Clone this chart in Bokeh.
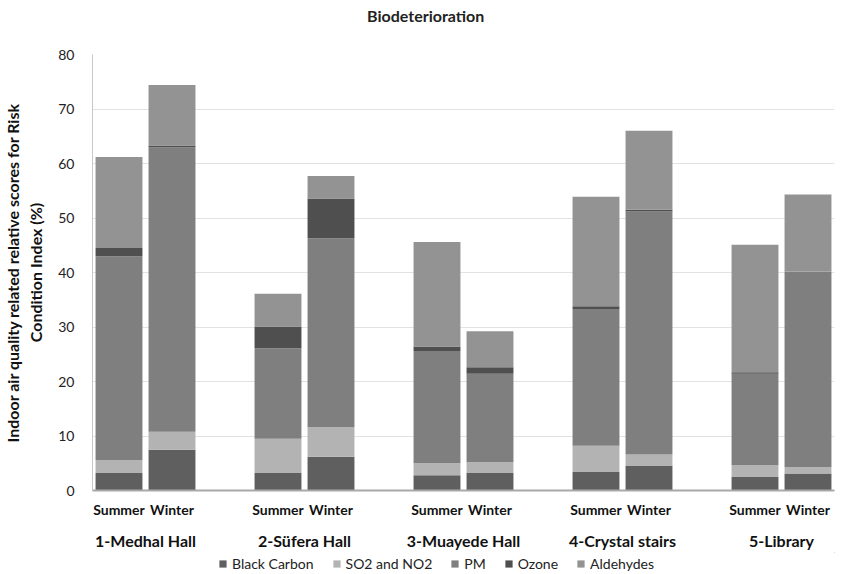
from bokeh.plotting import figure
from bokeh.models import ColumnDataSource, FactorRange, Range1d, Legend, LegendItem
from bokeh.layouts import column
from bokeh.core.properties import value
from bokeh.embed import file_html
from bokeh.resources import INLINE

title_text = "Biodeterioration"
halls = ["1-Medhal Hall", "2-Süfera Hall", "3-Muayede Hall", "4-Crystal stairs", "5-Library"]
seasons = ["Summer", "Winter"]
series = ["Black Carbon", "SO2 and NO2", "PM", "Ozone", "Aldehydes"]

# order: S1, W1, S2, W2, S3, W3, S4, W4, S5, W5
black_carbon = [3.2, 7.5, 3.2, 6.2, 2.8, 3.2, 3.4, 4.5, 2.5, 3.1]
so2_no2 = [2.4, 3.3, 6.3, 5.4, 2.2, 2.0, 4.8, 2.1, 2.2, 1.2]
pm = [37.4, 52.2, 16.6, 34.7, 20.6, 16.2, 25.1, 44.6, 16.7, 35.9]
ozone = [1.5, 0.3, 4.0, 7.3, 0.8, 1.2, 0.5, 0.3, 0.3, 0.0]
aldehydes = [16.7, 11.1, 6.0, 4.1, 19.2, 6.6, 20.1, 14.5, 23.4, 14.1]
y_ticks = [0, 10, 20, 30, 40, 50, 60, 70, 80]

colors = ["#5f5f5f", "#b3b3b3", "#7f7f7f", "#4f4f4f", "#939393"]
FONT = "Lato"
W = 846
LEFT, RIGHT = 88, 12   # frame borders shared by the stacked figures

# ---------- header (title) ----------
head = figure(width=W, height=30, output_backend="svg", toolbar_location=None,
              x_range=Range1d(LEFT, W - RIGHT), y_range=Range1d(0, 30),
              x_axis_location=None, y_axis_location=None,
              min_border_left=LEFT, min_border_right=RIGHT, min_border_top=0, min_border_bottom=0)
head.grid.visible = False
head.outline_line_color = None
head.text(x=[423], y=[15], text=[title_text], text_font=value(FONT), text_font_size="16px",
          text_font_style="bold", text_color="#222222", text_align="center",
          text_baseline="middle")

# ---------- main chart ----------
factors = [(h, s) for h in halls for s in seasons]
src = ColumnDataSource(dict(x=factors, bc=black_carbon, so2=so2_no2, pm=pm,
                            oz=ozone, ald=aldehydes))

p = figure(width=W, height=522, output_backend="svg", toolbar_location=None,
           x_range=FactorRange(*factors, range_padding=0, group_padding=1.0, factor_padding=0),
           y_range=Range1d(0, 80),
           min_border_left=LEFT, min_border_right=RIGHT, min_border_top=24, min_border_bottom=62)

renderers = p.vbar_stack(["bc", "so2", "pm", "oz", "ald"], x="x", width=0.885, source=src,
                         color=colors, line_color=None)

p.yaxis.axis_label = "Indoor air quality related relative scores for Risk\nCondition Index (%)"
p.yaxis.axis_label_text_font = FONT
p.yaxis.axis_label_text_font_size = "16px"
p.yaxis.axis_label_text_font_style = "bold"
p.yaxis.axis_label_text_color = "#111111"
p.yaxis.axis_label_standoff = 10
p.yaxis.ticker = y_ticks
p.yaxis.major_label_text_font = FONT
p.yaxis.major_label_text_font_size = "14px"
p.yaxis.major_label_text_color = "#222222"
p.yaxis.major_tick_line_color = None
p.yaxis.minor_tick_line_color = None
p.yaxis.axis_line_color = "#c8c8c8"
p.yaxis.major_label_standoff = 12

p.xaxis.major_label_text_font = FONT
p.xaxis.major_label_text_font_size = "14px"
p.xaxis.major_label_text_font_style = "bold"
p.xaxis.major_label_text_color = "#111111"
p.xaxis.group_text_font = FONT
p.xaxis.group_text_font_size = "16px"
p.xaxis.group_text_font_style = "bold"
p.xaxis.group_text_color = "#111111"
p.xaxis.separator_line_alpha = 0
p.xaxis.major_tick_line_color = None
p.xaxis.major_tick_out = 0
p.xaxis.major_tick_in = 0
p.xaxis.axis_line_color = "#a8a8a8"
p.xaxis.axis_line_width = 2
p.xaxis.major_label_standoff = 10

p.xgrid.grid_line_color = None
p.ygrid.grid_line_color = "#e2e2e2"
p.outline_line_color = None

# ---------- legend strip ----------
leg = figure(width=W, height=22, output_backend="svg", toolbar_location=None,
             x_range=Range1d(0, 1), y_range=Range1d(0, 1),
             x_axis_location=None, y_axis_location=None,
             min_border_left=LEFT, min_border_right=RIGHT, min_border_top=0, min_border_bottom=0)
leg.grid.visible = False
leg.outline_line_color = None
# legend swatches only: one off-range bar per series so each swatch is drawn
dummies = [leg.vbar(x=[5], top=[6], bottom=[5], width=0.1, color=c, line_color=None)
           for c in colors]
legend = Legend(items=[LegendItem(label=s, renderers=[r]) for s, r in zip(series, dummies)],
                orientation="horizontal", location=(214 - LEFT, 2),
                label_text_font=FONT, label_text_font_size="14px", label_text_color="#222222",
                glyph_width=9, glyph_height=9, spacing=18, padding=0, margin=0,
                border_line_color=None, background_fill_alpha=0, label_standoff=5)
leg.add_layout(legend, "center")

layout = column(head, p, leg, spacing=0)
open("out.html", "w").write(file_html(layout, INLINE))
